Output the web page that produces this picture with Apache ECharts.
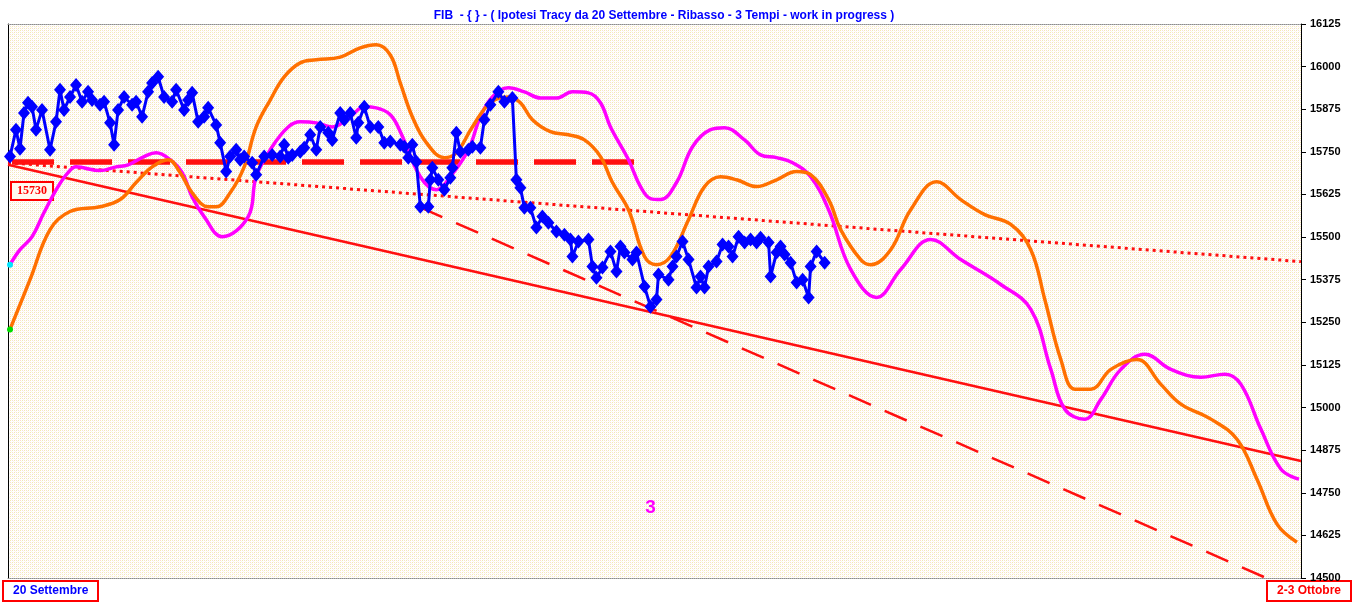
<!DOCTYPE html>
<html>
<head>
<meta charset="utf-8">
<script src="https://cdn.jsdelivr.net/npm/echarts@6/dist/echarts.min.js"></script>
<style>
html,body{margin:0;padding:0;background:#ffffff;}
#chart{width:1359px;height:603px;}
</style>
</head>
<body>
<div id="chart"></div>
<script>
// ---- data (x = bar index, y = index level) ----
const titleText = 'FIB  - { } - ( Ipotesi Tracy da 20 Settembre - Ribasso - 3 Tempi - work in progress )';
const yTicks = [14500,14625,14750,14875,15000,15125,15250,15375,15500,15625,15750,15875,16000,16125];
const startLabel = '20 Settembre';
const endLabel = '2-3 Ottobre';
const levelLabel = '15730';
const waveLabel = '3';

const priceX = [0.5,2,3,4,5,6,7,8.5,10.5,12,13,14,15.5,17,18.5,20,21,23,24,25.5,26.5,27.5,29,31,32,33.5,35,36,37.5,39,41,42,44,45,46,47.5,49,50,52,53,54.5,55.5,57,58,59,61,62,64,66,68,69,70,71,73,74,75.5,77,78,80,81,83,84,85.5,87,87.5,89,90.5,92.5,94,95.5,98,99,100,101,102,103,105,105.5,106,107.5,109,110.5,111,112,113,115,116,118,119,120.5,122.5,124,126,127,128,129,130.5,132,133.5,135,137,139,140.5,141,142.5,145,146,147,148.5,150.5,152,153,154,156,157,159,160.5,162,162.5,165,166,167,168.5,170,172,173,174,175,177,178.5,180,181,182.5,184,185.5,187,188,190,190.5,192,193,194,195.5,197,198.5,200,200.5,202,204];
const priceY = [15736,15815,15759,15864,15894,15882,15815,15873,15756,15838,15932,15873,15911,15946,15897,15926,15902,15888,15897,15835,15771,15873,15911,15888,15897,15853,15926,15952,15970,15911,15897,15932,15873,15902,15923,15838,15853,15879,15829,15777,15692,15736,15756,15727,15736,15718,15683,15736,15741,15736,15771,15733,15741,15750,15762,15800,15756,15823,15806,15785,15864,15844,15864,15791,15835,15882,15823,15823,15777,15780,15771,15765,15733,15771,15721,15589,15589,15668,15703,15668,15639,15674,15703,15806,15750,15756,15765,15762,15844,15888,15926,15897,15908,15668,15645,15586,15586,15528,15560,15542,15516,15507,15493,15443,15487,15493,15414,15381,15411,15458,15399,15472,15455,15434,15455,15355,15296,15317,15390,15375,15414,15443,15487,15434,15352,15384,15352,15414,15428,15478,15472,15443,15501,15484,15493,15484,15498,15484,15384,15455,15472,15449,15425,15367,15375,15323,15414,15458,15425];

const magentaX = [0.5,3,6,9,12.5,15,17,23,27,30,34,37,40.5,43.5,46,49,53.5,60,62,66,70,73,77,81,85.5,89,92,95.5,98,103,107,110.5,115,118,121,125,129,133,137,141,145,148,150.5,155,158,160.5,163,167,171,175.5,179,184,188,192,196,200.5,205,210.5,217,223,230.5,238,248,255.5,260.5,264,269,273,278,284,290.5,298,304,308,313,318,322.5];
const magentaY = [15419,15463,15501,15572,15648,15689,15706,15695,15706,15712,15736,15747,15727,15689,15618,15560,15501,15560,15677,15765,15823,15838,15835,15823,15853,15882,15879,15859,15809,15677,15639,15677,15756,15853,15911,15938,15926,15908,15908,15926,15923,15894,15823,15727,15648,15613,15610,15660,15765,15815,15821,15785,15741,15733,15718,15677,15580,15405,15323,15405,15493,15434,15361,15288,15112,14995,14966,15024,15112,15156,15112,15089,15098,15068,14936,14819,14790];

const orangeX = [0.5,5.5,10.5,15.5,23,28,32,36,40,43,46,50,52,55.5,59,62,65.5,69,73,77,83,88,92,95.5,98,101,104.5,109,112,116,120.5,125,128,131,135.5,140,144,148,151,155,159,162,165.5,170,174,178,182,187,192,197,200.5,205,208,213,215.5,220.5,225.5,232,238,244,250.5,255.5,259,263,266.5,270.5,275.5,282,288,293,300.5,307,312,317,322];
const orangeY = [15229,15375,15522,15575,15589,15610,15660,15706,15727,15689,15630,15589,15589,15630,15706,15823,15902,15970,16011,16020,16028,16055,16064,16034,15952,15853,15777,15733,15747,15823,15894,15911,15894,15844,15809,15800,15785,15736,15660,15580,15443,15419,15443,15551,15648,15677,15668,15648,15668,15692,15683,15610,15522,15434,15419,15463,15580,15662,15610,15566,15537,15463,15317,15141,15054,15054,15112,15141,15068,15010,14966,14907,14790,14658,14605];

// straight reference lines: [x, y] end points
const supportLine = [[0,15712],[323,14843]];
const upperTrend = [[0,15718],[323,15428]];
const level15730 = [[1,15720],[158,15720]];
const lowerTrend = [[103,15587],[314.3,14500]];
const wave3Pos = [160.5,14706];

function pairs(xs, ys){ return xs.map((x,i)=>[x, ys[i]]); }

// dotted paper-like background pattern
const pc = document.createElement('canvas');
pc.width = 4; pc.height = 4;
const g = pc.getContext('2d');
g.fillStyle = '#ffffff'; g.fillRect(0,0,4,4);
g.fillStyle = '#f9dcd2'; g.fillRect(0,0,1,1); g.fillRect(2,2,1,1);
g.fillStyle = '#f2eaae'; g.fillRect(2,0,1,1); g.fillRect(0,2,1,1);
g.fillStyle = '#fbf8ea'; g.fillRect(1,1,1,1); g.fillRect(3,3,1,1);

const chart = echarts.init(document.getElementById('chart'), null, {renderer:'canvas'});

const magData = pairs(magentaX, magentaY);
magData[0] = {value: magData[0], symbol:'circle', symbolSize:6, itemStyle:{color:'#00e5ff'}};
const orData = pairs(orangeX, orangeY);
orData[0] = {value: orData[0], symbol:'circle', symbolSize:6, itemStyle:{color:'#00dd00'}};

const option = {
  animation: false,
  backgroundColor: '#ffffff',
  title: {
    text: titleText, left: 659, top: 5, textAlign: 'center',
    textStyle: {color:'#0000ff', fontSize: 12, fontWeight:'bold', fontFamily:'Liberation Sans'}
  },
  grid: {left: 8, right: 58, top: 24, bottom: 25, show: true,
         backgroundColor: {image: pc, repeat: 'repeat'}, borderWidth: 0},
  xAxis: [
    {type:'value', min:0, max:323, position:'bottom',
     axisLine:{show:true, onZero:false, lineStyle:{color:'#8a8a8a', type:'dotted', width:1}},
     axisTick:{show:false}, axisLabel:{show:false}, splitLine:{show:false}},
    {type:'value', min:0, max:323, position:'top',
     axisLine:{show:true, onZero:false, lineStyle:{color:'#8a8a8a', type:'dotted', width:1}},
     axisTick:{show:false}, axisLabel:{show:false}, splitLine:{show:false}}
  ],
  yAxis: [
    {type:'value', min:14500, max:16125, interval:125, position:'right',
     axisLine:{show:true, onZero:false, lineStyle:{color:'#000', width:1}},
     axisTick:{show:true, inside:false, length:5, lineStyle:{color:'#000'}},
     axisLabel:{show:true, margin:9, color:'#000', fontSize:11, fontWeight:'bold', fontFamily:'Liberation Sans',
                formatter: v => yTicks.includes(v) ? String(v) : ''},
     splitLine:{show:false}},
    {type:'value', min:14500, max:16125, interval:125, position:'left',
     axisLine:{show:true, onZero:false, lineStyle:{color:'#000', width:1}},
     axisTick:{show:false}, axisLabel:{show:false}, splitLine:{show:false}}
  ],
  series: [
    {type:'line', name:'support', data: supportLine, symbol:'none', silent:true,
     lineStyle:{color:'#ff1010', width:2.5}, z:2},
    {type:'line', name:'upper', data: upperTrend, symbol:'none', silent:true,
     lineStyle:{color:'#ff1010', width:3, type:[3,4]}, z:2},
    {type:'line', name:'lower', data: lowerTrend, symbol:'none', silent:true,
     lineStyle:{color:'#ff1010', width:2.5, type:[24,15]}, z:2},
    {type:'line', name:'level', data: level15730, symbol:'none', silent:true,
     lineStyle:{color:'#ff1010', width:5.5, type:[42,16]}, z:3},
    {type:'line', name:'magenta', data: magData, smooth:0.4, symbol:'none', showSymbol:true,
     lineStyle:{color:'#ff00ff', width:3.5}, itemStyle:{color:'#ff00ff'}, z:4},
    {type:'line', name:'orange', data: orData, smooth:0.4, symbol:'none', showSymbol:true,
     lineStyle:{color:'#ff7000', width:3.5}, itemStyle:{color:'#ff7000'}, z:5},
    {type:'line', name:'price', data: pairs(priceX, priceY), symbol:'diamond', symbolSize:[12,14],
     lineStyle:{color:'#0000ff', width:3}, itemStyle:{color:'#0000ff'}, z:6,
     markPoint:{symbol:'circle', symbolSize:1, itemStyle:{color:'rgba(0,0,0,0)'},
       label:{show:true, formatter: waveLabel, color:'#ff00ff', fontSize:19, fontWeight:'bold', fontFamily:'Liberation Sans', position:'inside'},
       data:[{coord: wave3Pos}]}}
  ],
  graphic: [
    {type:'group', left: 10, top: 181, children:[
      {type:'rect', shape:{x:0,y:0,width:42,height:18}, style:{fill:'#fffaf0', stroke:'#ff0000', lineWidth:2}},
      {type:'text', style:{x:21, y:9, text: levelLabel, fill:'#ff0000', font:'bold 12px "Liberation Serif"', textAlign:'center', textVerticalAlign:'middle'}}
    ]},
    {type:'group', left: 2, top: 580, children:[
      {type:'rect', shape:{x:0,y:0,width:95,height:20}, style:{fill:'#ffffff', stroke:'#ff0000', lineWidth:2}},
      {type:'text', style:{x:10, y:10, text: startLabel, fill:'#0000ff', font:'bold 12px "Liberation Sans"', textAlign:'left', textVerticalAlign:'middle'}}
    ]},
    {type:'group', left: 1266, top: 580, children:[
      {type:'rect', shape:{x:0,y:0,width:84,height:20}, style:{fill:'#ffffff', stroke:'#ff0000', lineWidth:2}},
      {type:'text', style:{x:42, y:10, text: endLabel, fill:'#ff0000', font:'bold 12px "Liberation Sans"', textAlign:'center', textVerticalAlign:'middle'}}
    ]}
  ]
};
chart.setOption(option);
</script>
</body>
</html>
